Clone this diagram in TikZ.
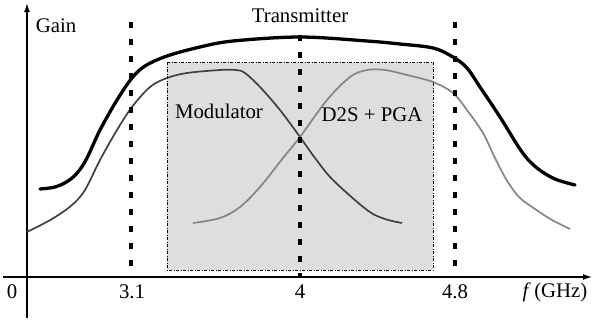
\documentclass[tikz,border=0pt]{standalone}
\usepackage{fontspec}
\setmainfont{Liberation Serif}
\usetikzlibrary{arrows.meta}
\definecolor{shade}{HTML}{DEDEDE}
\definecolor{modc}{HTML}{404040}
\definecolor{d2sc}{HTML}{858585}
\begin{document}
\begin{tikzpicture}[x=1pt,y=-1pt,
  lbl/.style={font=\fontsize{20.8}{25}\selectfont, inner sep=0pt},
  axisline/.style={line width=1.3pt, -{Latex[length=9pt,width=6pt]}},
  bandline/.style={line width=4pt, dash pattern=on 5.5pt off 11.5pt},
  txcurve/.style={line width=3.3pt, line cap=round},
  modcurve/.style={line width=1.7pt, color=modc},
  d2scurve/.style={line width=1.7pt, color=d2sc},
  boxstyle/.style={fill=shade, draw=black, line width=1pt, dash pattern=on 3pt off 1.5pt on 1pt off 1.5pt}
]
\useasboundingbox (0,0) rectangle (592,322);
% shaded box
\draw[boxstyle] (167,62) rectangle (433,270);
% axes
\coordinate (yb) at (27,318);
\coordinate (yt) at (27,3);
\coordinate (xl) at (3,277);
\coordinate (xr) at (592,277);
\draw[axisline] (yb) -- (yt);
\draw[axisline] (xl) -- (xr);
% curves
\draw[modcurve] plot[smooth, tension=0.55] coordinates {(27,232) (52,219) (72,205) (85,190) (100,160) (117,130) (132,107) (150,87) (167,78) (187,73) (220,70) (236,70) (245,73) (260,87) (280,110) (300,137) (315,158) (333,180) (367,210) (385,219) (402,223)};
\draw[d2scurve] plot[smooth, tension=0.55] coordinates {(193,223) (220,218) (240,207) (260,187) (283,158) (300,137) (327,100) (350,77) (367,70) (385,70) (407,75) (433,82) (453,93) (467,110) (483,133) (494,156) (506,179) (519,197) (535,209) (552,220) (570,229)};
\draw[txcurve] plot[smooth, tension=0.55] coordinates {(40,189) (55,187) (68,181) (78,172) (87,158) (100,130) (117,100) (132,78) (145,66) (167,56) (200,47) (233,41) (300,37) (367,41) (400,44) (433,48) (453,57) (467,68) (480,87) (500,117) (522,152) (537,168) (555,179) (575,185)};
% band lines
\coordinate (a1) at (131,22); \coordinate (a2) at (131,277);
\coordinate (b1) at (300,35); \coordinate (b2) at (300,277);
\coordinate (c1) at (455,22); \coordinate (c2) at (455,266);
\draw[bandline] (a1) -- (a2);
\draw[bandline] (b1) -- (b2);
\draw[bandline] (c1) -- (c2);
% labels
\node[lbl] (gain) at (56,26) {Gain};
\node[lbl] (tx) at (300,16) {Transmitter};
\node[lbl] (mod) at (219,111) {Modulator};
\node[lbl] (d2s) at (372,115) {D2S + PGA};
\node[lbl] (t0) at (12,292) {0};
\node[lbl] (t31) at (132,292) {3.1};
\node[lbl] (t4) at (300,292) {4};
\node[lbl] (t48) at (455,292) {4.8};
\node[lbl] (fg) at (555,292) {\textit{f}\,(GHz)};
\end{tikzpicture}
\end{document}
